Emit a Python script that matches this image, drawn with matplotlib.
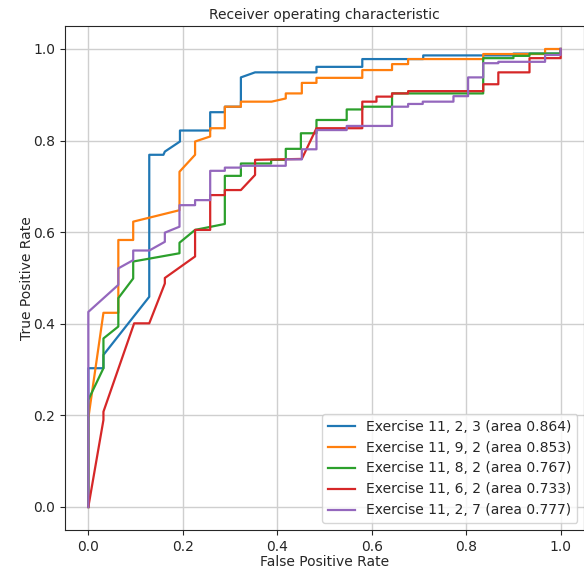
import matplotlib
matplotlib.use("Agg")
import matplotlib.pyplot as plt

labels = [
    "Exercise 11, 2, 3 (area 0.864)",
    "Exercise 11, 9, 2 (area 0.853)",
    "Exercise 11, 8, 2 (area 0.767)",
    "Exercise 11, 6, 2 (area 0.733)",
    "Exercise 11, 2, 7 (area 0.777)",
]

fpr_blue = [0, 0, 0.032, 0.032, 0.129, 0.129, 0.159, 0.162, 0.194, 0.194, 0.258, 0.258,
            0.289, 0.289, 0.323, 0.323, 0.353, 0.483, 0.483, 0.58, 0.58, 0.709, 0.709,
            0.90, 0.90, 1.0, 1.0]
tpr_blue = [0, 0.303, 0.303, 0.332, 0.459, 0.769, 0.769, 0.776, 0.798, 0.822, 0.822, 0.862,
            0.862, 0.874, 0.874, 0.938, 0.949, 0.949, 0.961, 0.961, 0.978, 0.978, 0.986,
            0.986, 0.99, 0.99, 1.0]

fpr_orange = [0, 0, 0.032, 0.0635, 0.0635, 0.095, 0.095, 0.193, 0.193, 0.226, 0.226, 0.258,
              0.258, 0.289, 0.289, 0.323, 0.323, 0.388, 0.418, 0.418, 0.452, 0.452, 0.483,
              0.483, 0.58, 0.58, 0.643, 0.643, 0.677, 0.677, 0.836, 0.836, 0.967, 0.967, 1.0]
tpr_orange = [0, 0.194, 0.424, 0.424, 0.583, 0.583, 0.623, 0.648, 0.732, 0.769, 0.798, 0.809,
              0.827, 0.827, 0.874, 0.874, 0.885, 0.885, 0.892, 0.903, 0.903, 0.926, 0.926,
              0.937, 0.937, 0.954, 0.954, 0.967, 0.967, 0.978, 0.978, 0.989, 0.989, 1.0, 1.0]

fpr_green = [0, 0, 0.032, 0.032, 0.0635, 0.0635, 0.095, 0.095, 0.193, 0.193, 0.226, 0.289,
             0.289, 0.323, 0.323, 0.387, 0.387, 0.418, 0.418, 0.45, 0.45, 0.483, 0.483,
             0.547, 0.547, 0.58, 0.58, 0.643, 0.643, 0.836, 0.836, 0.90, 0.90, 0.934, 0.934,
             1.0, 1.0]
tpr_green = [0, 0.234, 0.303, 0.368, 0.394, 0.456, 0.499, 0.536, 0.554, 0.577, 0.605, 0.618,
             0.723, 0.723, 0.750, 0.750, 0.758, 0.758, 0.782, 0.782, 0.816, 0.816, 0.845,
             0.845, 0.868, 0.868, 0.874, 0.874, 0.903, 0.903, 0.980, 0.980, 0.985, 0.985,
             0.99, 0.99, 1.0]

fpr_red = [0, 0.032, 0.032, 0.097, 0.129, 0.162, 0.162, 0.226, 0.226, 0.258, 0.258, 0.289,
           0.289, 0.323, 0.353, 0.353, 0.452, 0.483, 0.58, 0.58, 0.61, 0.61, 0.643, 0.643,
           0.677, 0.677, 0.836, 0.836, 0.868, 0.868, 0.934, 0.934, 1.0, 1.0]
tpr_red = [0, 0.19, 0.208, 0.401, 0.401, 0.488, 0.50, 0.547, 0.605, 0.605, 0.681, 0.681,
           0.692, 0.692, 0.725, 0.758, 0.760, 0.827, 0.827, 0.885, 0.885, 0.896, 0.896,
           0.903, 0.903, 0.908, 0.908, 0.923, 0.923, 0.949, 0.949, 0.98, 0.98, 1.0]

fpr_purple = [0, 0, 0.0635, 0.0635, 0.095, 0.095, 0.129, 0.162, 0.162, 0.193, 0.193, 0.226,
              0.226, 0.258, 0.258, 0.289, 0.289, 0.323, 0.323, 0.418, 0.418, 0.452, 0.452,
              0.483, 0.483, 0.547, 0.547, 0.643, 0.643, 0.677, 0.677, 0.708, 0.708, 0.773,
              0.773, 0.804, 0.804, 0.836, 0.836, 0.868, 0.868, 0.967, 0.967, 1.0, 1.0]
tpr_purple = [0, 0.426, 0.485, 0.521, 0.539, 0.560, 0.560, 0.579, 0.599, 0.612, 0.659, 0.659,
              0.670, 0.670, 0.734, 0.734, 0.741, 0.741, 0.745, 0.745, 0.759, 0.759, 0.781,
              0.781, 0.823, 0.823, 0.832, 0.832, 0.874, 0.874, 0.880, 0.880, 0.885, 0.885,
              0.897, 0.897, 0.938, 0.938, 0.969, 0.969, 0.972, 0.972, 0.987, 0.987, 1.0]

curves = [(fpr_blue, tpr_blue), (fpr_orange, tpr_orange), (fpr_green, tpr_green),
          (fpr_red, tpr_red), (fpr_purple, tpr_purple)]
colors = ["#1f77b4", "#ff7f0e", "#2ca02c", "#d62728", "#9467bd"]

plt.rcParams["font.size"] = 10
plt.rcParams["text.color"] = "#262626"
plt.rcParams["axes.labelcolor"] = "#262626"
plt.rcParams["xtick.color"] = "#262626"
plt.rcParams["ytick.color"] = "#262626"

fig = plt.figure(figsize=(5.84, 5.71), dpi=100)
ax = fig.add_axes([0.1108, 0.072, 0.8897, 0.8823])

for (x, y), c, lab in zip(curves, colors, labels):
    ax.plot(x, y, color=c, lw=1.6, label=lab)

ax.set_xlim(-0.05, 1.05)
ax.set_ylim(-0.05, 1.05)
ax.set_xticks([0.0, 0.2, 0.4, 0.6, 0.8, 1.0])
ax.set_yticks([0.0, 0.2, 0.4, 0.6, 0.8, 1.0])
ax.grid(True, color="#cfcfcf", lw=1.0)
ax.set_axisbelow(True)
for s in ax.spines.values():
    s.set_color("#262626")
ax.set_xlabel("False Positive Rate", fontsize=10, labelpad=1)
ax.set_ylabel("True Positive Rate", fontsize=10, labelpad=-1)
ax.set_title("Receiver operating characteristic", fontsize=10, pad=5)
ax.tick_params(labelsize=10)
ax.legend(loc="lower right", fontsize=10)

fig.savefig("out.png", dpi=100)
